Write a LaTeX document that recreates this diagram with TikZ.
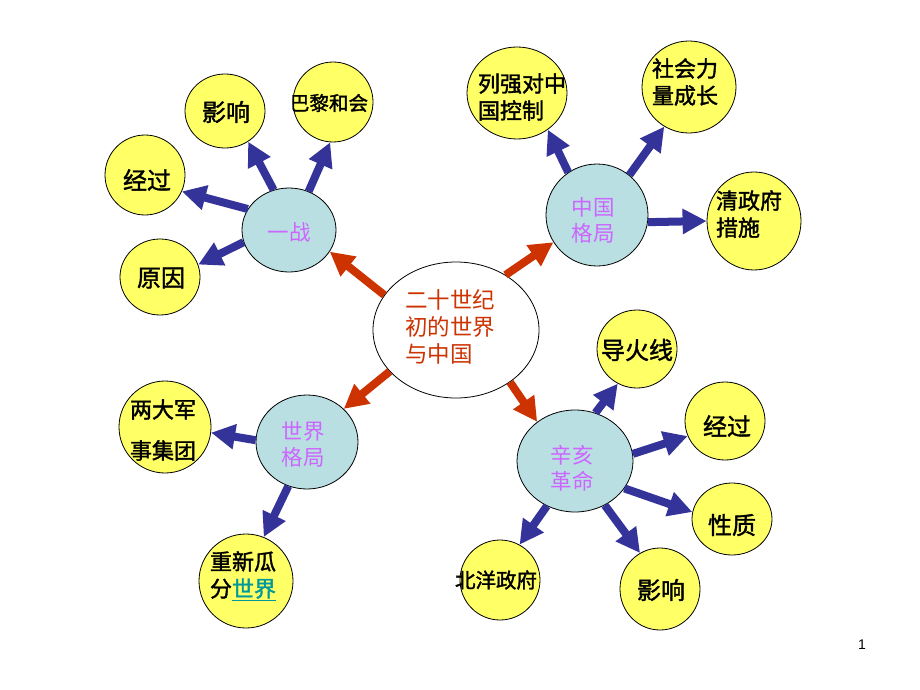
\documentclass[tikz,border=0pt]{standalone}
\usepackage{fontspec}
\newfontfamily\cjk{Noto Sans CJK SC}
\newfontfamily\cjkb[FakeBold=1.6]{Noto Sans CJK SC}
\setsansfont{Liberation Sans}
\usetikzlibrary{arrows.meta,shapes.geometric}
\definecolor{bubY}{HTML}{FFFF66}
\definecolor{bubT}{HTML}{B9DFE3}
\definecolor{arrB}{HTML}{333399}
\definecolor{arrR}{HTML}{CC3300}
\definecolor{txtV}{HTML}{CC66FF}
\definecolor{linkT}{HTML}{009999}
\begin{document}
\begin{tikzpicture}[x=1pt,y=-1pt,
  bub/.style={ellipse, draw=black, line width=0.8pt, inner sep=0pt},
  ybub/.style={bub, fill=bubY},
  tbub/.style={bub, fill=bubT},
  cbub/.style={bub, fill=white},
  lab/.style={inner sep=0pt, align=center},
  ylab/.style={lab, text=black, font=\cjkb\fontsize{24}{28}\selectfont},
  ymid/.style={lab, text=black, align=left, font=\cjkb\fontsize{22}{27}\selectfont},
  ysmall/.style={lab, text=black, font=\cjkb\fontsize{20}{24}\selectfont},
  tlab/.style={lab, text=txtV, font=\cjk\fontsize{21.5}{26}\selectfont},
  barrow/.style={draw=arrB, line width=8pt, -{Triangle[length=24pt,width=24pt]}},
  rarrow/.style={draw=arrR, line width=8pt, -{Triangle[length=24pt,width=24pt]}}
]
\fill[white] (0,0) rectangle (920,690);
\useasboundingbox (0,0) rectangle (920,690);

% central node
\node[cbub, minimum width=166pt, minimum height=136pt] (c) at (456,330) {};
\node[lab, align=left, text=arrR, font=\cjk\fontsize{22.5}{27}\selectfont] (ct) at (450,327) {二十世纪\\初的世界\\与中国};

% teal nodes
\node[tbub, minimum width=94pt, minimum height=84pt] (yz) at (289,230) {};
\node[tlab] (yzt) at (289,232) {一战};
\node[tbub, minimum width=102pt, minimum height=102pt] (zg) at (597,215) {};
\node[tlab] (zgt) at (593,220) {中国\\格局};
\node[tbub, minimum width=102pt, minimum height=94pt] (sj) at (307,442) {};
\node[tlab] (sjt) at (303,444) {世界\\格局};
\node[tbub, minimum width=116pt, minimum height=102pt] (xh) at (575,461) {};
\node[tlab] (xht) at (572,468) {辛亥\\革命};

% yellow nodes around 一战
\node[ybub, minimum width=80pt, minimum height=74pt] (yx1) at (225,111) {};
\node[ylab] (yx1t) at (226,112) {影响};
\node[ybub, minimum width=80pt, minimum height=80pt] (bl) at (333,102) {};
\node[ysmall, font=\cjkb\fontsize{19.5}{24}\selectfont] (blt) at (329,103) {巴黎和会};
\node[ybub, minimum width=80pt, minimum height=80pt] (jg1) at (145,175) {};
\node[ylab] (jg1t) at (147,180) {经过};
\node[ybub, minimum width=80pt, minimum height=76pt] (yy) at (160,277) {};
\node[ylab] (yyt) at (161,278) {原因};

% yellow nodes around 中国格局
\node[ybub, minimum width=100pt, minimum height=92pt] (lq) at (517,93) {};
\node[ymid] (lqt) at (522,97) {列强对中\\国控制};
\node[ybub, minimum width=94pt, minimum height=92pt] (sh) at (689,87) {};
\node[ymid] (sht) at (685,82) {社会力\\量成长};
\node[ybub, minimum width=94pt, minimum height=98pt] (qz) at (754,221) {};
\node[ymid] (qzt) at (749,214) {清政府\\措施};

% yellow nodes around 世界格局
\node[ybub, minimum width=92pt, minimum height=92pt] (ld) at (165,427) {};
\node[ymid, font=\cjkb\fontsize{22}{41}\selectfont] (ldt) at (163,430) {两大军\\事集团};
\node[ybub, minimum width=94pt, minimum height=94pt] (cx) at (246,581) {};
\node[ymid] (cxt) at (243,576) {重新瓜\\分{\color{linkT}\underline{世界}}};

% yellow nodes around 辛亥革命
\node[ybub, minimum width=80pt, minimum height=78pt] (dh) at (637,349) {};
\node[ylab] (dht) at (637,350) {导火线};
\node[ybub, minimum width=80pt, minimum height=78pt] (jg2) at (725,421) {};
\node[ylab] (jg2t) at (727,426) {经过};
\node[ybub, minimum width=80pt, minimum height=72pt] (xz) at (732,519) {};
\node[ylab] (xzt) at (732,525) {性质};
\node[ybub, minimum width=80pt, minimum height=82pt] (yx2) at (660,589) {};
\node[ylab] (yx2t) at (661,590) {影响};
\node[ybub, minimum width=80pt, minimum height=80pt] (by) at (500,580) {};
\node[ysmall, font=\cjkb\fontsize{20.5}{24}\selectfont] (byt) at (496,580) {北洋政府};

% red arrows from centre
\draw[rarrow] (c.154) -- (yz.-28);
\draw[rarrow] (c.48) -- (zg.-148);
\draw[rarrow] (c.-148) -- (sj.42);
\draw[rarrow] (c.-44) -- (xh.134);

% blue arrows
\draw[barrow] (yz.111) -- (yx1.-53);
\draw[barrow] (yz.63) -- (bl.-94);
\draw[barrow] (yz.153) -- (jg1.-24);
\draw[barrow] (yz.-165) -- (yy.18);
\draw[barrow] (zg.124) -- (lq.-50);
\draw[barrow] (zg.51) -- (sh.-122);
\draw[barrow] (zg.-8) -- (qz.180);
\draw[barrow] (sj.178) -- (ld.-7);
\draw[barrow] (sj.-113) -- (cx.68);
\draw[barrow] (xh.67) -- (dh.-119);
\draw[barrow] (xh.7) -- (jg2.-158);
\draw[barrow] (xh.-29) -- (xz.170);
\draw[barrow] (xh.-56) -- (yx2.119);
\draw[barrow] (xh.-122) -- (by.61);

% page number
\node[lab, font=\sffamily\fontsize{14}{16}\selectfont] (pg) at (862,645) {1};
\end{tikzpicture}
\end{document}
